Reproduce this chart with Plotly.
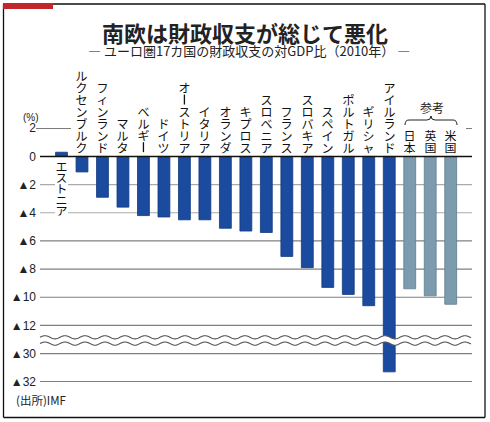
import math
import plotly.graph_objects as go

# ---------------- data ----------------
categories = ["エストニア", "ルクセンブルク", "フィンランド", "マルタ", "ベルギー", "ドイツ",
              "オーストリア", "イタリア", "オランダ", "キプロス", "スロベニア", "フランス",
              "スロバキア", "スペイン", "ポルトガル", "ギリシャ", "アイルランド",
              "日本", "英国", "米国"]
balance = [0.3, -1.1, -2.9, -3.6, -4.2, -4.3, -4.5, -4.5, -5.1, -5.3, -5.4, -7.1,
           -7.9, -9.3, -9.8, -10.6, -31.3, -9.4, -9.9, -10.5]
is_reference = [False] * 17 + [True] * 3
tick_values = [2, 0, -2, -4, -6, -8, -10, -12, -30, -32]

title = "南欧は財政収支が総じて悪化"
subtitle = "― ユーロ圏17カ国の財政収支の対GDP比（2010年） ―"
ref_label = "参考"
unit_label = "(%)"
source_label = "(出所)IMF"

# ---------------- broken axis ----------------
BREAK_FROM, BREAK_TO, BREAK_GAP = -12, -30, 2
SHIFT = (BREAK_FROM - BREAK_GAP) - BREAK_TO


def shown(v):
    return v if v >= BREAK_FROM else v + SHIFT


def tick_text(v):
    return str(v) if v >= 0 else "▲" + str(-v)


# ---------------- geometry helpers (pixels -> paper) ----------------
W, H = 490, 422
ML, MR, MT, MB = 40, 18, 128, 40
PW, PH = W - ML - MR, H - MT - MB
Y_RANGE = [-16.02, 2.02]
X_RANGE = [-1.05, 20.04]


def px(x):
    return (x - ML) / PW


def py(y):
    return (H - MB - y) / PH


def y_to_px(v):
    return H - MB - (v - Y_RANGE[0]) / (Y_RANGE[1] - Y_RANGE[0]) * PH


BLUE = "#1a4b9e"
BLUE_EDGE = "#123a80"
GREY = "#7d9bae"
GREY_EDGE = "#5f7c8e"

fig = go.Figure()
fig.add_trace(go.Bar(
    x=categories,
    y=[shown(v) for v in balance],
    width=0.58,
    marker=dict(color=[GREY if r else BLUE for r in is_reference],
                line=dict(color=[GREY_EDGE if r else BLUE_EDGE for r in is_reference], width=0.8)),
    hoverinfo="skip",
))

shapes = []
# gridlines
for v in tick_values:
    yv = shown(v)
    if v == 0:
        continue
    if v == 2:
        shapes.append(dict(type="line", xref="paper", yref="y", x0=px(36), x1=px(71), y0=yv, y1=yv,
                           line=dict(color="#555", width=1), layer="below"))
        shapes.append(dict(type="line", xref="paper", yref="y", x0=px(466), x1=1, y0=yv, y1=yv,
                           line=dict(color="#555", width=1), layer="below"))
        continue
    col = "#aaaaaa" if v in (-2, -4) else "#808080"
    shapes.append(dict(type="line", xref="paper", yref="y", x0=0, x1=1, y0=yv, y1=yv,
                       line=dict(color=col, width=1.2), layer="below"))
# zero line
shapes.append(dict(type="line", xref="paper", yref="y", x0=0, x1=1, y0=0, y1=0,
                   line=dict(color="#111", width=1.5), layer="above"))

# white patch behind the label written below the zero line
shapes.append(dict(type="rect", xref="paper", yref="paper", x0=px(55), x1=px(68), y0=py(216), y1=py(159),
                   fillcolor="white", line=dict(width=0), layer="above"))

# wavy break band
unit_px = PH / (Y_RANGE[1] - Y_RANGE[0])
c_up = Y_RANGE[0] + (H - MB - 337.3) / unit_px
c_lo = Y_RANGE[0] + (H - MB - 343.6) / unit_px
amp = 1.6 / unit_px
lam = 20.0
xs = [40 + i * 0.5 for i in range(int((471 - 40) / 0.5) + 1)]
up = [(px(x), c_up + amp * math.sin(2 * math.pi * (x - 40) / lam)) for x in xs]
lo = [(px(x), c_lo + amp * math.sin(2 * math.pi * (x - 40) / lam)) for x in xs]
band = "M " + " L ".join(f"{a:.5f},{b:.4f}" for a, b in up + lo[::-1]) + " Z"
shapes.append(dict(type="path", xref="paper", yref="y", path=band,
                   fillcolor="white", line=dict(width=0), layer="above"))
for pts in (up, lo):
    p = "M " + " L ".join(f"{a:.5f},{b:.4f}" for a, b in pts)
    shapes.append(dict(type="path", xref="paper", yref="y", path=p,
                       line=dict(color="#555", width=1.1), layer="above"))

# brace over reference countries
bx0, bx1, bxc = 405, 457, 431
by_end, by_h, by_peak = 125, 120, 116
r = 4
brace = (f"M {px(bx0)},{py(by_end)} Q {px(bx0)},{py(by_h)} {px(bx0 + r)},{py(by_h)} "
         f"L {px(bxc - r)},{py(by_h)} Q {px(bxc)},{py(by_h)} {px(bxc)},{py(by_peak)} "
         f"Q {px(bxc)},{py(by_h)} {px(bxc + r)},{py(by_h)} "
         f"L {px(bx1 - r)},{py(by_h)} Q {px(bx1)},{py(by_h)} {px(bx1)},{py(by_end)}")
shapes.append(dict(type="path", xref="paper", yref="paper", path=brace,
                   line=dict(color="#222", width=1)))

# frame and red tab
frame_col = "#111"
for (x0, y0, x1, y1) in [(3.5, 4, 485, 4), (3.5, 4, 3.5, 417.5), (485, 4, 485, 417.5), (3.5, 417.5, 485, 417.5)]:
    shapes.append(dict(type="line", xref="paper", yref="paper", x0=px(x0), y0=py(y0), x1=px(x1), y1=py(y1),
                       line=dict(color=frame_col, width=1.3)))
shapes.append(dict(type="rect", xref="paper", yref="paper", x0=px(3), x1=px(53), y0=py(9), y1=py(3),
                   fillcolor="#c0262c", line=dict(width=0)))

annotations = []
LABEL_FONT = dict(family="Noto Sans CJK JP", size=12, color="#111")
STEP = 11.9
zero_px = y_to_px(0)
for i, (cat, v) in enumerate(zip(categories, balance)):
    chars = list(cat)
    if v > 0:
        step = 11.0
        shifts = [-(9.6 + step * k) for k in range(len(chars))]
    else:
        step = STEP
        shifts = [9.3 + step * (len(chars) - 1 - k) for k in range(len(chars))]
    for ch, s in zip(chars, shifts):
        if ch == "ー":
            # long-vowel mark written vertically
            cy = zero_px - s
            shapes.append(dict(type="line", xref="x", yref="paper", x0=i, x1=i,
                               y0=py(cy - 5), y1=py(cy + 5), line=dict(color="#111", width=1.3)))
            continue
        annotations.append(dict(x=cat, y=0, xref="x", yref="y", text=ch, showarrow=False,
                                xanchor="center", yanchor="middle", height=step - 0.6, width=13,
                                valign="middle", yshift=s, font=LABEL_FONT, borderpad=0))

annotations += [
    dict(x=px(245), y=py(32), xref="paper", yref="paper", text=f"<b>{title}</b>", showarrow=False,
         xanchor="center", yanchor="middle",
         font=dict(family="Noto Sans CJK JP", size=22, color="#222")),
    dict(x=px(249), y=py(50), xref="paper", yref="paper", text=subtitle, showarrow=False,
         xanchor="center", yanchor="middle",
         font=dict(family="Noto Sans CJK JP", size=13, color="#222")),
    dict(x=px(432), y=py(108), xref="paper", yref="paper", text=ref_label, showarrow=False,
         xanchor="center", yanchor="middle",
         font=dict(family="Noto Sans CJK JP", size=12, color="#222")),
    dict(x=px(31), y=py(117), xref="paper", yref="paper", text=unit_label, showarrow=False,
         xanchor="center", yanchor="middle",
         font=dict(family="Liberation Sans, Arial", size=10, color="#222")),
    dict(x=px(14), y=py(400), xref="paper", yref="paper", text=source_label, showarrow=False,
         xanchor="left", yanchor="middle",
         font=dict(family="Noto Sans CJK JP", size=11.5, color="#222")),
]

fig.update_layout(
    width=W, height=H,
    margin=dict(l=ML, r=MR, t=MT, b=MB, pad=0),
    paper_bgcolor="white", plot_bgcolor="white",
    showlegend=False,
    bargap=0.4,
    xaxis=dict(range=X_RANGE, showticklabels=False, showgrid=False, zeroline=False,
               showline=False, ticks="", fixedrange=True),
    yaxis=dict(range=Y_RANGE, tickvals=[shown(v) for v in tick_values],
               ticktext=[tick_text(v) for v in tick_values], showgrid=False, zeroline=False,
               showline=False, ticks="", ticklabelstandoff=3,
               tickfont=dict(family="Liberation Sans, Arial, DejaVu Sans", size=12, color="#222"),
               fixedrange=True),
    shapes=shapes,
    annotations=annotations,
)

fig.write_html("out.html", config={"displayModeBar": False},
               post_script="document.body.style.margin='0';document.body.style.overflow='hidden';")
